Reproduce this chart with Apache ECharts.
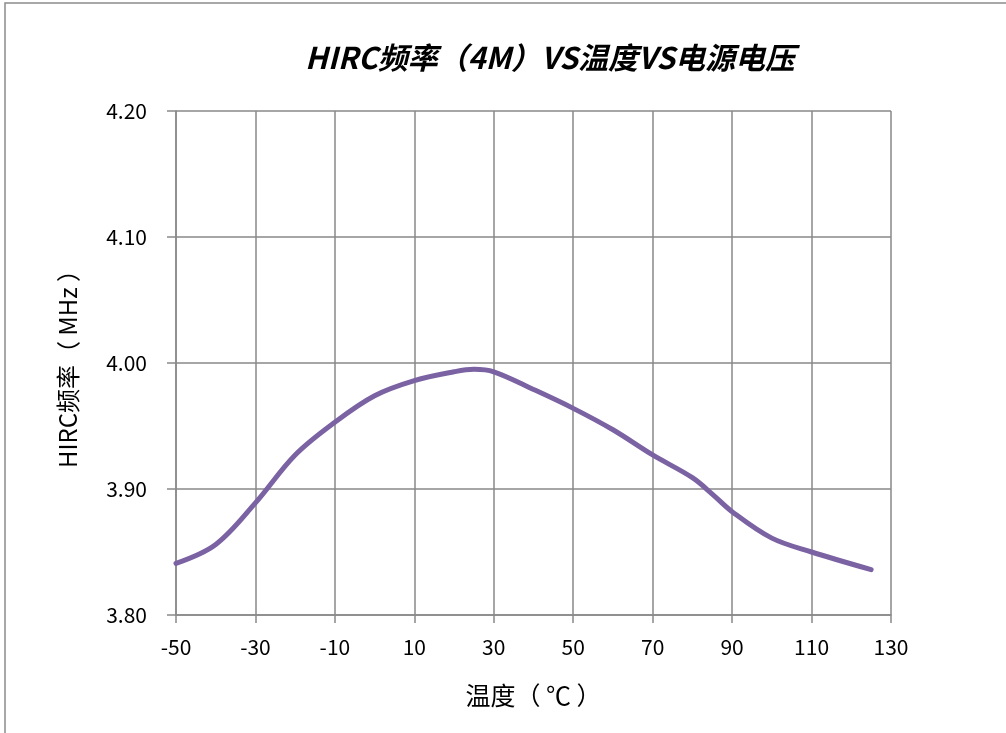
<!DOCTYPE html>
<html>
<head>
<meta charset="utf-8">
<script src="https://cdn.jsdelivr.net/npm/echarts@6/dist/echarts.min.js"></script>
<style>
    html, body { margin: 0; padding: 0; background: #fff; }
    #chart { width: 1006px; height: 733px; }
</style>
</head>
<body>
<div id="chart"></div>
<script>
// 温度 (℃)
var temps = [-50, -40, -30, -20, -10, 0, 10, 20, 25, 30, 40, 50, 60, 70, 80, 85, 90, 100, 110, 125];
// HIRC频率 (MHz)
var freqs = [3.841, 3.856, 3.889, 3.927, 3.953, 3.974, 3.986, 3.993, 3.995, 3.993, 3.979, 3.964, 3.947, 3.927, 3.909, 3.896, 3.882, 3.861, 3.850, 3.836];

var xTicks = { min: -50, max: 130, step: 20 };
var yTicks = { min: 3.8, max: 4.2, step: 0.1 };

var gridColor = '#898989';
var fontFamily = '"Noto Sans CJK SC", "Noto Sans", sans-serif';

var chart = echarts.init(document.getElementById('chart'));

var option = {
    animation: false,
    backgroundColor: '#fff',
    title: {
        text: 'HIRC频率（4M）VS温度VS电源电压',
        left: 545,
        top: 38,
        textAlign: 'center',
        textStyle: {
            fontFamily: fontFamily,
            fontSize: 30,
            fontWeight: 'bold',
            fontStyle: 'italic',
            color: '#000'
        }
    },
    graphic: [
        {
            type: 'polyline',
            shape: { points: [[5, 740], [5, 3], [1010, 3]] },
            style: { stroke: '#8c8c8c', lineWidth: 1.5, fill: null }
        }
    ],
    grid: {
        left: 176,
        right: 115,
        top: 111,
        bottom: 118
    },
    xAxis: {
        type: 'value',
        min: xTicks.min,
        max: xTicks.max,
        interval: xTicks.step,
        name: '温度（ ℃ ）',
        nameLocation: 'middle',
        nameGap: 68,
        nameTextStyle: { fontFamily: fontFamily, fontSize: 25, color: '#000' },
        axisLine: { show: true, onZero: false, lineStyle: { color: gridColor, width: 1.5 } },
        axisTick: { show: true, length: 8, lineStyle: { color: gridColor, width: 1.5 } },
        axisLabel: { fontFamily: fontFamily, fontSize: 21, color: '#000', margin: 22 },
        splitLine: { show: true, lineStyle: { color: gridColor, width: 1.5 } }
    },
    yAxis: {
        type: 'value',
        min: yTicks.min,
        max: yTicks.max,
        interval: yTicks.step,
        name: 'HIRC频率（ MHz ）',
        nameLocation: 'middle',
        nameGap: 96,
        nameTextStyle: { fontFamily: fontFamily, fontSize: 24, color: '#000' },
        axisLine: { show: true, onZero: false, lineStyle: { color: gridColor, width: 1.5 } },
        axisTick: { show: true, length: 9, lineStyle: { color: gridColor, width: 1.5 } },
        axisLabel: {
            fontFamily: fontFamily,
            fontSize: 21,
            color: '#000',
            margin: 29,
            formatter: function (v) { return v.toFixed(2); }
        },
        splitLine: { show: true, lineStyle: { color: gridColor, width: 1.5 } }
    },
    series: [
        {
            name: 'HIRC频率',
            type: 'line',
            smooth: 0.35,
            showSymbol: false,
            data: temps.map(function (t, i) { return [t, freqs[i]]; }),
            lineStyle: { color: '#7b63a3', width: 5, cap: 'round', join: 'round' }
        }
    ]
};

chart.setOption(option);
</script>
</body>
</html>
